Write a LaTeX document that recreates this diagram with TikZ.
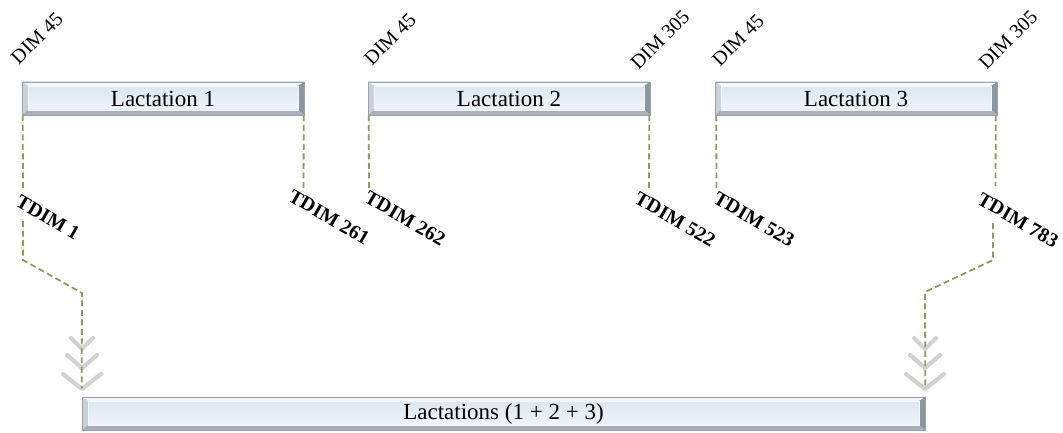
\documentclass[tikz,border=0pt]{standalone}
\usepackage{fontspec}
\setmainfont{Liberation Serif}
\usetikzlibrary{calc}
\definecolor{dashgreen}{HTML}{8E9D5C}
\definecolor{chevgray}{HTML}{D2D2D2}
\definecolor{facetop}{HTML}{D9E5F0}
\definecolor{facebot}{HTML}{F3F7FB}
\definecolor{bevtop}{HTML}{F4F6F8}
\definecolor{bevleft}{HTML}{C9D1D9}
\definecolor{bevright}{HTML}{8C969F}
\definecolor{bevbot}{HTML}{A7B0B9}
\definecolor{boxedge}{HTML}{9AA3AC}
\tikzset{
  lbox/.style={rectangle, minimum height=33pt, inner sep=0pt,
    top color=facetop, bottom color=facebot, draw=boxedge, line width=0.6pt,
    font=\fontsize{23}{26}\selectfont,
    path picture={
      \coordinate (nw) at (path picture bounding box.north west);
      \coordinate (ne) at (path picture bounding box.north east);
      \coordinate (sw) at (path picture bounding box.south west);
      \coordinate (se) at (path picture bounding box.south east);
      \fill[bevtop] (nw) -- (ne) -- ([xshift=-6pt,yshift=-4pt]ne) -- ([xshift=6pt,yshift=-4pt]nw) -- cycle;
      \fill[bevleft] (nw) -- ([xshift=6pt,yshift=-4pt]nw) -- ([xshift=6pt,yshift=5pt]sw) -- (sw) -- cycle;
      \fill[bevright] (ne) -- ([xshift=-6pt,yshift=-4pt]ne) -- ([xshift=-6pt,yshift=5pt]se) -- (se) -- cycle;
      \fill[bevbot] (sw) -- ([xshift=6pt,yshift=5pt]sw) -- ([xshift=-6pt,yshift=5pt]se) -- (se) -- cycle;
      \draw[white!70!facetop, line width=0.6pt] ([xshift=6pt,yshift=-4pt]nw) rectangle ([xshift=-6pt,yshift=5pt]se);
    }},
  dimlbl/.style={rotate=45, inner sep=0pt, font=\fontsize{20}{22}\selectfont},
  tdimlbl/.style={rotate=-30, inner sep=0pt, font=\bfseries\fontsize{20}{22}\selectfont},
  dline/.style={draw=dashgreen, line width=1.8pt, dash pattern=on 6pt off 3.5pt},
  chev/.style={draw=chevgray, line width=4.2pt, line cap=round, line join=round},
}
\begin{document}
\begin{tikzpicture}[x=1pt,y=-1pt]
\useasboundingbox (0,0) rectangle (1063,433);
% boxes
\node[lbox, minimum width=282pt] (L1) at (163,98.5) {Lactation 1};
\node[lbox, minimum width=282pt] (L2) at (509,98.5) {Lactation 2};
\node[lbox, minimum width=282pt] (L3) at (856,98.5) {Lactation 3};
\node[lbox, minimum width=843pt] (LT) at (503.5,413.5) {Lactations (1 + 2 + 3)};
% DIM labels
\node[dimlbl] (d1) at (37,38) {DIM 45};
\node[dimlbl] (d2) at (390,39) {DIM 45};
\node[dimlbl] (d3) at (660,40) {DIM 305};
\node[dimlbl] (d4) at (738,40) {DIM 45};
\node[dimlbl] (d5) at (1008,40) {DIM 305};
% TDIM labels
\node[tdimlbl] (t1) at (48,217) {TDIM 1};
\node[tdimlbl] (t2) at (329,217) {TDIM 261};
\node[tdimlbl] (t3) at (405,218) {TDIM 262};
\node[tdimlbl] (t4) at (675,219) {TDIM 522};
\node[tdimlbl] (t5) at (754,219) {TDIM 523};
\node[tdimlbl] (t6) at (1018,220) {TDIM 783};
% coordinates
\coordinate (a1) at (23,188);
\coordinate (a2) at (23,221);
\coordinate (a3) at (23,260);
\coordinate (a4) at (82,293);
\coordinate (b1) at (303.5,190);
\coordinate (b2) at (369,190);
\coordinate (b3) at (649,188);
\coordinate (b4) at (716.5,190);
\coordinate (e1) at (995.5,186);
\coordinate (e2) at (993,223);
\coordinate (e3) at (993,260);
\coordinate (e4) at (925,292);
% chevrons
\foreach \cx in {82,925}{
  \draw[chev] (\cx-11,338) -- (\cx,349) -- (\cx+11,338);
  \draw[chev] (\cx-15,355) -- (\cx,368) -- (\cx+15,355);
  \draw[chev] (\cx-19,374) -- (\cx,389) -- (\cx+19,374);
}
% dashed connectors
\draw[dline] ([xshift=1pt]L1.south west) -- (a1);
\draw[dline] (a2) -- (a3) -- (a4) -- ([yshift=8pt]LT.north west);
\draw[dline] ([xshift=-0.5pt]L1.south east) -- (b1);
\draw[dline] ([xshift=1pt]L2.south west) -- (b2);
\draw[dline] ([xshift=-1pt]L2.south east) -- (b3);
\draw[dline] ([xshift=1.5pt]L3.south west) -- (b4);
\draw[dline] ([xshift=-1.5pt]L3.south east) -- (e1);
\draw[dline] (e2) -- (e3) -- (e4) -- ([yshift=8pt]LT.north east);
\end{tikzpicture}
\end{document}
